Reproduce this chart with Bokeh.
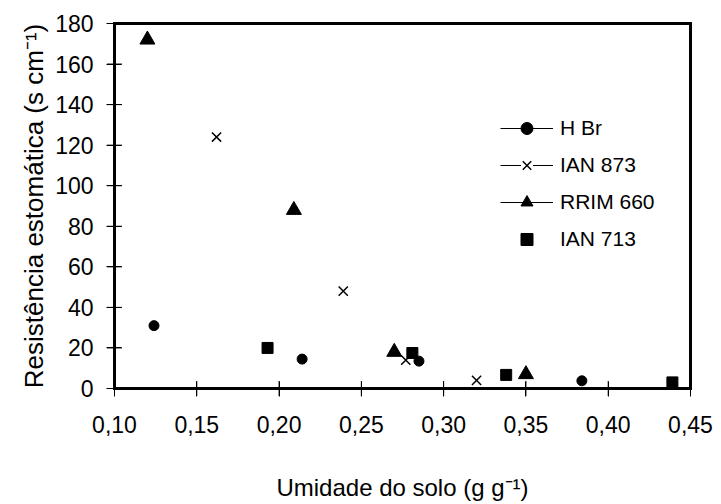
import math
from bokeh.plotting import figure
from bokeh.models import Range1d, FixedTicker, Legend, LegendItem
from bokeh.embed import file_html
from bokeh.resources import INLINE

# ---- data ----
x_ticks = [0.10, 0.15, 0.20, 0.25, 0.30, 0.35, 0.40, 0.45]
x_tick_labels = ["0,10", "0,15", "0,20", "0,25", "0,30", "0,35", "0,40", "0,45"]
y_ticks = [0, 20, 40, 60, 80, 100, 120, 140, 160, 180]

hbr_x = [0.124, 0.214, 0.285, 0.384]
hbr_y = [31, 14.5, 13.5, 3.8]

ian873_x = [0.162, 0.239, 0.277, 0.320]
ian873_y = [124, 48, 14, 4]

rrim660_x = [0.120, 0.209, 0.270, 0.350]
rrim660_y = [172, 88, 18, 7]

ian713_x = [0.193, 0.281, 0.338, 0.439]
ian713_y = [20, 17.5, 6.7, 3]

FONT = "Liberation Sans"
NAN = float("nan")

x_lo, x_hi = x_ticks[0], x_ticks[-1]
y_lo, y_hi = y_ticks[0], y_ticks[-1]

p = figure(width=721, height=504, output_backend="svg", toolbar_location=None,
           x_range=Range1d(x_lo, x_hi), y_range=Range1d(y_lo, y_hi),
           min_border_left=114, min_border_right=31, min_border_top=23,
           min_border_bottom=116)
p.xgrid.visible = False
p.ygrid.visible = False
p.outline_line_color = "black"
p.outline_line_width = 3

p.xaxis.ticker = FixedTicker(ticks=x_ticks)
p.xaxis.major_label_overrides = dict(zip(x_ticks, x_tick_labels))
p.yaxis.ticker = FixedTicker(ticks=y_ticks)

for ax in (p.xaxis[0], p.yaxis[0]):
    ax.axis_line_width = 3
    ax.axis_line_color = "black"
    ax.major_tick_line_color = "black"
    ax.major_tick_line_width = 1
    ax.major_tick_in = 7
    ax.major_tick_out = 8
    ax.minor_tick_in = 0
    ax.minor_tick_out = 0
    ax.major_label_text_font = FONT
    ax.major_label_text_font_size = "23px"
    ax.major_label_text_color = "black"
    ax.axis_label_text_font = FONT
    ax.axis_label_text_font_style = "normal"
    ax.axis_label_text_color = "black"

p.yaxis.axis_label = "Resistência estomática (s cm⁻¹)"
p.xaxis.axis_label = "Umidade do solo (g g⁻¹)"
p.yaxis.axis_label_text_font_size = "26px"
p.xaxis.axis_label_text_font_size = "24px"
p.yaxis.major_label_standoff = 13
p.yaxis.axis_label_standoff = 3
p.xaxis.major_label_standoff = 19
p.xaxis.axis_label_standoff = 38

# ---- frame and tick strokes (drawn as markers on the axis positions) ----
x_mid = (x_lo + x_hi) / 2
y_mid = (y_lo + y_hi) / 2
p.scatter([x_mid, x_mid], [y_lo, y_hi], marker="dash", size=579,
          line_color="black", line_width=3, level="overlay")
p.scatter([x_lo, x_hi], [y_mid, y_mid], marker="dash", size=368,
          angle=math.pi / 2, line_color="black", line_width=3, level="overlay")
p.scatter(x_ticks, [y_lo] * len(x_ticks), marker="dash", size=15,
          angle=math.pi / 2, line_color="black", line_width=1, level="overlay")
p.scatter([x_lo] * len(y_ticks), y_ticks, marker="dash", size=15,
          line_color="black", line_width=1, level="overlay")

# ---- data markers ----
r_hbr = p.scatter(hbr_x, hbr_y, marker="circle", size=10,
                  fill_color="black", line_color="black", level="overlay")
r_873_bg = p.scatter(ian873_x, ian873_y, marker="square", size=13,
                     fill_color="white", line_alpha=0, level="overlay")
r_873 = p.scatter(ian873_x, ian873_y, marker="x", size=13,
                  line_color="black", line_width=1.5, level="overlay")
r_rrim = p.scatter(rrim660_x, rrim660_y, marker="triangle", size=15,
                   fill_color="black", line_color="black", level="overlay")
r_713 = p.scatter(ian713_x, ian713_y, marker="square", size=11,
                  fill_color="black", line_color="black", level="overlay")

# legend line samples (a single NaN point: nothing is drawn in the plot)
l_hbr = p.line(x=[NAN], y=[NAN], line_color="black", line_width=1)
l_873 = p.line(x=[NAN], y=[NAN], line_color="black", line_width=1)
l_rrim = p.line(x=[NAN], y=[NAN], line_color="black", line_width=1)

legend = Legend(
    items=[
        LegendItem(label="H Br", renderers=[l_hbr, r_hbr]),
        LegendItem(label="IAN 873", renderers=[l_873, r_873_bg, r_873]),
        LegendItem(label="RRIM 660", renderers=[l_rrim, r_rrim]),
        LegendItem(label="IAN 713", renderers=[r_713]),
    ],
    location=(386, 134), orientation="vertical",
    glyph_width=53, glyph_height=30, spacing=7, label_standoff=7,
    padding=0, margin=0, border_line_alpha=0, background_fill_alpha=0,
    label_text_font=FONT, label_text_font_size="21px", label_text_color="black",
)
p.add_layout(legend)

open("out.html", "w").write(file_html(p, INLINE))
